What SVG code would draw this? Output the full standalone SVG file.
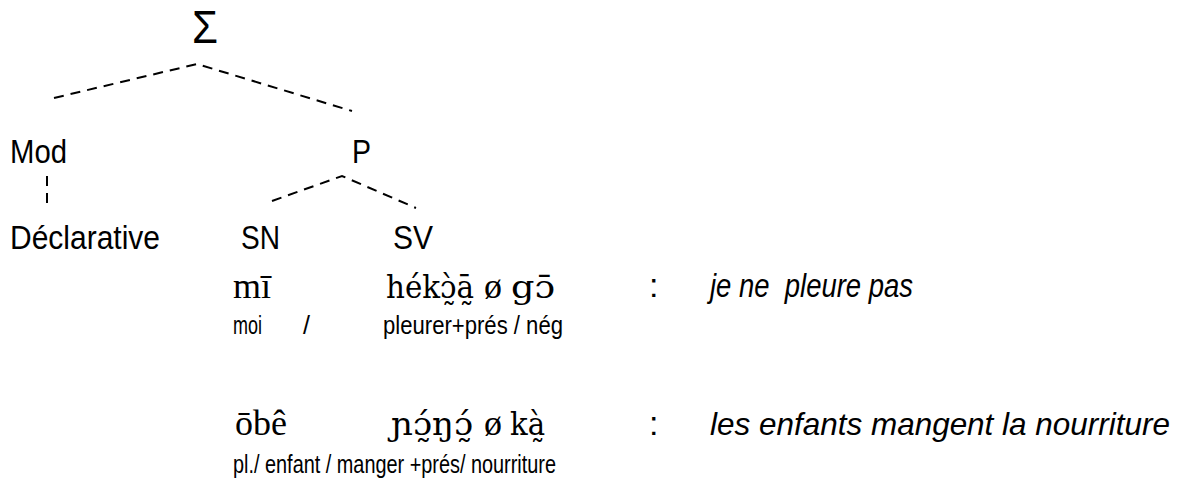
<svg xmlns="http://www.w3.org/2000/svg" width="1180" height="484" viewBox="0 0 1180 484">
<style>
.lbl{font-family:"Liberation Sans",Arial,sans-serif;font-size:34px;fill:#000}
.sig{font-family:"Liberation Sans",Arial,sans-serif;font-size:46px;fill:#000}
.sm{font-family:"Liberation Sans",Arial,sans-serif;font-size:25px;fill:#000}
.it{font-family:"Liberation Sans",Arial,sans-serif;font-size:33px;font-style:italic;fill:#000}
.it2{font-family:"Liberation Sans",Arial,sans-serif;font-size:32px;font-style:italic;fill:#000}
.ipa{font-family:"Liberation Serif","DejaVu Serif",serif;font-size:36px;fill:#000}
.ipc{font-family:"DejaVu Serif",serif;font-size:32px;fill:#000}
.dash{fill:none;stroke:#000;stroke-width:2;stroke-dasharray:10 7}
</style>
<rect width="1180" height="484" fill="#fff"/>
<g id="connectors">
<polyline class="dash" points="54,98 197,64 352,111"/>
<line class="dash" x1="47" y1="176" x2="47" y2="203"/>
<polyline class="dash" points="272,201 342,176 416,208"/>
</g>
<g id="sigma"><text class="sig" x="192" y="43" textLength="26" lengthAdjust="spacingAndGlyphs">Σ</text></g>
<g id="mod"><text class="lbl" x="10" y="163" textLength="57" lengthAdjust="spacingAndGlyphs">Mod</text></g>
<g id="p"><text class="lbl" x="352" y="163" textLength="19" lengthAdjust="spacingAndGlyphs">P</text></g>
<g id="declarative"><text class="lbl" x="10" y="249" textLength="150" lengthAdjust="spacingAndGlyphs">Déclarative</text></g>
<g id="sn"><text class="lbl" x="241" y="249" textLength="39" lengthAdjust="spacingAndGlyphs">SN</text></g>
<g id="sv"><text class="lbl" x="393" y="249" textLength="40" lengthAdjust="spacingAndGlyphs">SV</text></g>
<g id="ex1">
<text class="ipa" x="233" y="298">mī</text>
<text class="ipc" x="386" y="298" textLength="88" lengthAdjust="spacingAndGlyphs">hékɔ̰̀ā̰</text>
<text class="ipa" x="484" y="298">ø</text>
<text class="ipc" x="511" y="298" textLength="44" lengthAdjust="spacingAndGlyphs">gɔ̄</text>
<text class="lbl" x="649" y="297">:</text>
<text class="it" x="710" y="297" textLength="203" lengthAdjust="spacingAndGlyphs" xml:space="preserve">je ne  pleure pas</text>
<text class="sm" x="233" y="334" textLength="29" lengthAdjust="spacingAndGlyphs">moi</text>
<text class="sm" x="303" y="334">/</text>
<text class="sm" x="383" y="334" textLength="180" lengthAdjust="spacingAndGlyphs">pleurer+prés / nég</text>
</g>
<g id="ex2">
<text class="ipa" x="235" y="435">ōbê</text>
<text class="ipc" x="391" y="435" textLength="82" lengthAdjust="spacingAndGlyphs">ɲɔ̰́ŋɔ̰́</text>
<text class="ipa" x="484" y="435">ø</text>
<text class="ipc" x="510" y="435" textLength="35" lengthAdjust="spacingAndGlyphs">kà̰</text>
<text class="lbl" x="649" y="435">:</text>
<text class="it2" x="710" y="435" textLength="460" lengthAdjust="spacingAndGlyphs">les enfants mangent la nourriture</text>
<text class="sm" x="233" y="473" textLength="323" lengthAdjust="spacingAndGlyphs">pl./ enfant / manger +prés/ nourriture</text>
</g>
</svg>
